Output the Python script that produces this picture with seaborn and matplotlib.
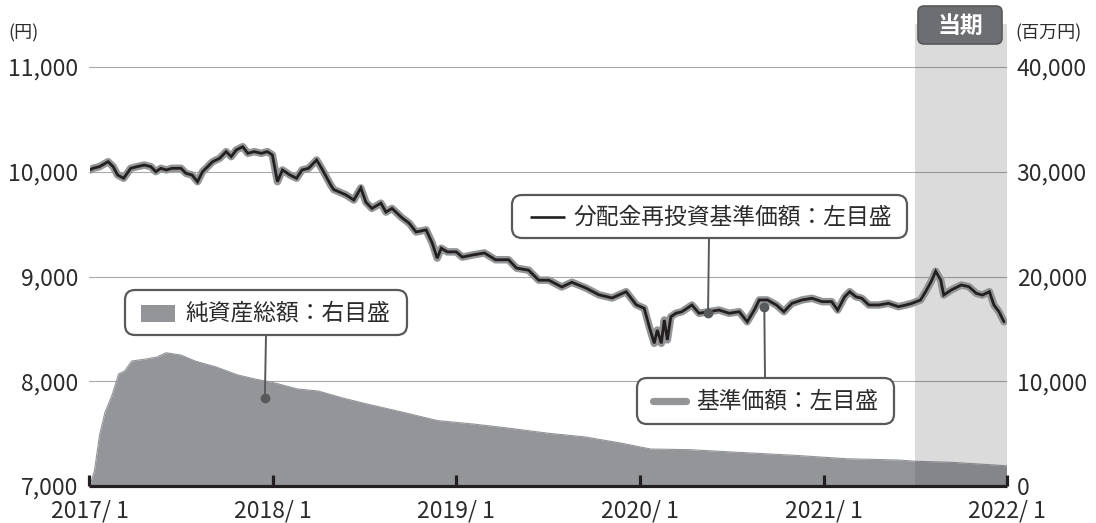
import matplotlib
matplotlib.use("Agg")
import matplotlib.pyplot as plt
from matplotlib.patches import FancyBboxPatch, Rectangle
from matplotlib.lines import Line2D
import pandas as pd
import seaborn as sns

# ---------------- data ----------------
nav_dates = [
    "2017-01-02", "2017-01-08", "2017-01-21", "2017-02-07", "2017-02-17", "2017-02-26",
    "2017-03-10", "2017-03-24", "2017-04-06", "2017-04-20", "2017-05-03", "2017-05-13",
    "2017-05-23", "2017-06-03", "2017-06-14", "2017-07-02", "2017-07-12", "2017-07-24",
    "2017-08-04", "2017-08-14", "2017-08-24", "2017-09-03", "2017-09-17", "2017-09-30",
    "2017-10-10", "2017-10-20", "2017-11-02", "2017-11-12", "2017-11-25", "2017-12-09",
    "2017-12-21", "2017-12-31", "2018-01-10", "2018-01-20", "2018-02-04", "2018-02-17",
    "2018-02-28", "2018-03-13", "2018-03-29", "2018-04-08", "2018-04-26",
    "2018-05-02", "2018-05-26", "2018-06-11", "2018-06-25", "2018-07-05", "2018-07-17",
    "2018-08-04", "2018-08-14", "2018-08-26", "2018-09-15", "2018-09-29", "2018-10-13",
    "2018-11-02", "2018-11-14", "2018-11-24", "2018-12-02", "2018-12-14", "2019-01-01",
    "2019-01-13", "2019-02-02", "2019-02-26", "2019-03-20", "2019-04-15", "2019-05-01",
    "2019-05-25", "2019-06-14", "2019-07-04", "2019-07-30", "2019-08-19", "2019-09-16",
    "2019-10-12", "2019-11-07", "2019-12-05", "2019-12-25",
    "2020-01-10", "2020-01-20", "2020-01-30", "2020-02-05", "2020-02-13", "2020-02-19",
    "2020-02-25", "2020-03-03", "2020-03-13", "2020-03-25", "2020-04-14", "2020-04-28",
    "2020-05-18", "2020-06-07", "2020-06-27", "2020-07-17", "2020-08-02", "2020-08-16",
    "2020-08-26", "2020-09-11", "2020-09-29", "2020-10-14", "2020-10-30", "2020-11-19",
    "2020-12-09", "2020-12-29", "2021-01-17", "2021-01-29", "2021-02-12", "2021-02-22",
    "2021-03-06", "2021-03-18", "2021-04-01", "2021-04-21", "2021-05-10", "2021-05-30",
    "2021-06-14", "2021-06-26", "2021-07-13", "2021-07-23", "2021-08-03", "2021-08-12",
    "2021-08-22", "2021-08-28", "2021-09-12", "2021-10-02", "2021-10-17", "2021-11-01",
    "2021-11-13", "2021-11-27", "2021-12-06", "2021-12-16", "2021-12-26",
]
nav_values = [
    10017, 10033, 10049, 10096, 10049, 9969,
    9938, 10033, 10049, 10064, 10049, 10001,
    10033, 10017, 10033, 10033, 9985, 9969,
    9905, 10001, 10049, 10096, 10128, 10192,
    10144, 10208, 10239, 10176, 10192, 10176,
    10192, 10160, 9905, 10017, 9969, 9938,
    10017, 10033, 10112, 10033, 9874,
    9830, 9780, 9730, 9845, 9710, 9650,
    9700, 9615, 9650, 9560, 9510, 9425,
    9445, 9320, 9175, 9270, 9235, 9235,
    9185, 9205, 9225, 9160, 9160, 9080,
    9060, 8965, 8965, 8900, 8945, 8890,
    8825, 8795, 8855, 8730,
    8696, 8521, 8362, 8489, 8362, 8585,
    8394, 8616, 8649, 8664, 8728, 8649,
    8664, 8680, 8649, 8664, 8568, 8680,
    8776, 8776, 8728, 8664, 8744, 8776,
    8792, 8760, 8760, 8680, 8807, 8855,
    8807, 8792, 8728, 8728, 8744, 8712,
    8728, 8744, 8776, 8855, 8951, 9050,
    8967, 8823, 8871, 8919, 8903, 8839,
    8823, 8855, 8728, 8664, 8568,
]
# distribution-reinvested NAV (no distributions paid: identical to NAV)
nav_reinv_values = list(nav_values)

aum_dates = [
    "2017-01-03", "2017-01-11", "2017-01-21", "2017-02-01", "2017-02-15", "2017-02-28",
    "2017-03-12", "2017-03-26", "2017-04-23", "2017-05-15", "2017-06-02", "2017-07-02",
    "2017-07-30", "2017-09-10", "2017-10-23", "2017-11-27", "2018-01-02", "2018-02-19",
    "2018-04-01", "2018-05-20", "2018-07-07", "2018-09-15", "2018-11-24", "2019-02-03",
    "2019-04-13", "2019-07-04", "2019-09-12", "2019-11-21", "2020-01-23", "2020-04-08",
    "2020-07-21", "2020-11-04", "2021-02-17", "2021-05-31", "2021-07-04", "2021-09-13",
    "2021-12-31",
]
aum_values = [  # million yen
    200, 1500, 4870, 7060, 8690, 10700,
    10980, 11930, 12120, 12310, 12720, 12500,
    11930, 11360, 10600, 10210, 9870, 9260,
    9070, 8400, 7830, 7060, 6250, 5920,
    5540, 5030, 4700, 4130, 3530, 3470,
    3200, 2930, 2600, 2480, 2360, 2260,
    1930,
]

year_ticks = ["2017-01-01", "2018-01-01", "2019-01-01", "2020-01-01", "2021-01-01", "2022-01-01"]
year_labels = ["2017/ 1", "2018/ 1", "2019/ 1", "2020/ 1", "2021/ 1", "2022/ 1"]
left_ticks = [7000, 8000, 9000, 10000, 11000]
right_ticks = [0, 10000, 20000, 30000, 40000]
period_start, period_end = "2021-07-01", "2022-01-01"

label_reinv = "分配金再投資基準価額：左目盛"
label_nav = "基準価額：左目盛"
label_aum = "純資産総額：右目盛"
label_period = "当期"
unit_left = "(円)"
unit_right = "(百万円)"

# ---------------- styling ----------------
sns.set_theme(style="white")
plt.rcParams["font.family"] = ["Noto Sans CJK JP", "DejaVu Sans"]
plt.rcParams["xtick.bottom"] = True

TXT = "#2b2b2b"
BOX_EC = "#58595b"
W, H = 1096, 523
fig = plt.figure(figsize=(W / 100, H / 100), dpi=100)
fig.patch.set_facecolor("white")

ax = fig.add_axes([89.5 / W, 1 - 486 / H, (1007 - 89.5) / W, (486 - 24) / H])
ax2 = ax.twinx()
ax.set_zorder(ax2.get_zorder() + 1)
ax.patch.set_visible(False)

nav_df = pd.DataFrame({"date": pd.to_datetime(nav_dates), "nav": nav_values,
                       "reinv": nav_reinv_values})
aum_df = pd.DataFrame({"date": pd.to_datetime(aum_dates), "aum": aum_values})

# area (right axis)
ax2.fill_between(aum_df["date"], 0, aum_df["aum"], color="#939598", lw=0, zorder=1)
sns.lineplot(data=aum_df, x="date", y="aum", ax=ax2, color="#939598", lw=0.8,
             sort=False, zorder=1.1)

# lines (left axis)
sns.lineplot(data=nav_df, x="date", y="nav", ax=ax, color="#939597", lw=5.4,
             sort=False, solid_capstyle="round", solid_joinstyle="round", zorder=3)
sns.lineplot(data=nav_df, x="date", y="reinv", ax=ax, color="#231f20", lw=2.0,
             sort=False, solid_joinstyle="miter", zorder=4)

# current period shading
ax.axvspan(pd.Timestamp(period_start), pd.Timestamp(period_end), color="#4b4b50",
           alpha=0.2, lw=0, zorder=0.5)

# axes limits
x0, x1 = pd.Timestamp(year_ticks[0]), pd.Timestamp(year_ticks[-1])
ax.set_xlim(x0, x1)
ax.set_ylim(7000, 11000 + (67 - 24) / (486 - 67) * 4000)
ax2.set_ylim(0, 40000 + (67 - 24) / (486 - 67) * 40000)

# ticks
ax.set_xticks(pd.to_datetime(year_ticks))
ax.set_xticklabels(year_labels)
ax.tick_params(axis="x", which="major", bottom=True, direction="in", length=8,
               width=2.3, color="#231f20", pad=10, labelsize=16.5, labelcolor=TXT)
ax.set_yticks(left_ticks)
ax.set_yticklabels([f"{v:,}" for v in left_ticks])
ax.tick_params(axis="y", left=False, length=0, pad=8, labelsize=16.5, labelcolor=TXT)
ax2.set_yticks(right_ticks)
ax2.set_yticklabels([f"{v:,}" for v in right_ticks])
ax2.tick_params(axis="y", right=False, length=0, pad=7, labelsize=16.5, labelcolor=TXT)
ax2.tick_params(axis="x", bottom=False, labelbottom=False)
ax.set_xlabel("")
ax.set_ylabel("")
ax2.set_ylabel("")

ax.grid(False)
ax2.grid(False)
ax2.yaxis.grid(True, color="#a7a9ac", lw=0.8)
ax2.set_axisbelow(True)

for s in ["left", "right", "top"]:
    ax.spines[s].set_visible(False)
for s in ax2.spines.values():
    s.set_visible(False)
ax.spines["bottom"].set_linewidth(2.3)
ax.spines["bottom"].set_color("#231f20")
ax.spines["bottom"].set_capstyle("butt")

# ---------------- annotations (figure pixel layout) ----------------
T = fig.dpi_scale_trans


def P(px, py):
    return px / 100, (H - py) / 100


def rbox(xa, ya, xb, yb, fc="white", ec=BOX_EC, lw=1.6, r=0.1, z=10):
    (bx, by) = P(xa, yb)
    p = FancyBboxPatch((bx, by), (xb - xa) / 100, (yb - ya) / 100,
                       boxstyle=f"round,pad=0,rounding_size={r}", fc=fc, ec=ec, lw=lw,
                       transform=T, zorder=z, clip_on=False)
    fig.add_artist(p)


def leader(px, py, date, val, axis):
    axis.annotate("", xy=(pd.Timestamp(date), val), xycoords="data",
                  xytext=P(px, py), textcoords=T,
                  arrowprops=dict(arrowstyle="-", color=BOX_EC, lw=1.4,
                                  shrinkA=0, shrinkB=0), zorder=9, annotation_clip=False)
    axis.plot([pd.Timestamp(date)], [val], marker="o", ms=6, color=BOX_EC, zorder=9,
              clip_on=False)


# box 1: distribution reinvested NAV
leader(709, 238, "2020-05-16", 8652, ax)
rbox(512, 195, 907, 238)
fig.add_artist(Line2D([P(530, 0)[0], P(565, 0)[0]], [P(0, 217)[1]] * 2, color="#231f20",
                      lw=1.9, transform=T, zorder=11, solid_capstyle="butt"))
fig.text(*P(573, 217), label_reinv, transform=T, fontsize=16.4, color=TXT,
         va="center", ha="left", zorder=11)

# box 2: NAV
leader(765, 378, "2020-09-05", 8709, ax)
rbox(637, 378, 894, 424)
fig.add_artist(Line2D([P(653, 0)[0], P(686, 0)[0]], [P(0, 401)[1]] * 2, color="#939597",
                      lw=5.2, transform=T, zorder=11, solid_capstyle="round"))
fig.text(*P(696, 401), label_nav, transform=T, fontsize=16.4, color=TXT,
         va="center", ha="left", zorder=11)

# box 3: net assets
leader(266, 335, "2017-12-16", 8400, ax2)
rbox(125, 290, 407, 335)
fig.add_artist(Rectangle(P(141, 322), 34 / 100, 17 / 100, fc="#939598", ec="none",
                         transform=T, zorder=11))
fig.text(*P(185, 313), label_aum, transform=T, fontsize=16.4, color=TXT,
         va="center", ha="left", zorder=11)

# current period tag
rbox(918, 6, 1002, 44, fc="#6d6e71", ec="#58595b", lw=1.2, r=0.06)
fig.text(*P(960, 26), label_period, transform=T, fontsize=16.5, color="white",
         fontweight="bold", va="center", ha="center", zorder=11)

# units
fig.text(*P(8, 33), unit_left, transform=T, fontsize=13, color=TXT, va="center", ha="left")
fig.text(*P(1015, 33), unit_right, transform=T, fontsize=13, color=TXT, va="center",
         ha="left")

fig.savefig("out.png", dpi=100, facecolor="white")
